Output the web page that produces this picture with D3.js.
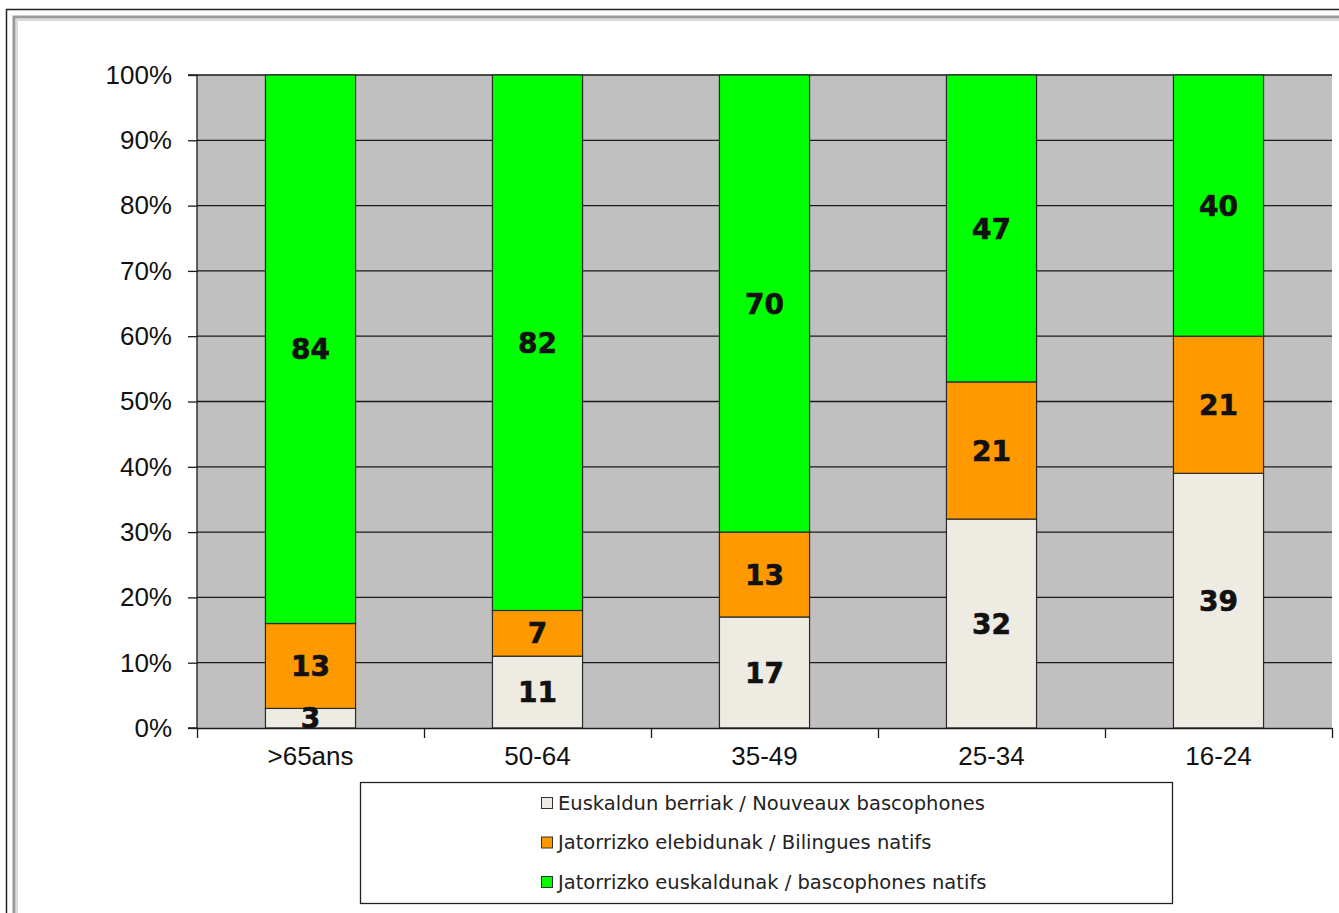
<!DOCTYPE html>
<html>
<head>
<meta charset="utf-8">
<script src="https://cdn.jsdelivr.net/npm/d3@7/dist/d3.min.js"></script>
<style>
  html, body { margin: 0; padding: 0; background: #fff; }
  svg { display: block; }
</style>
</head>
<body>
<svg id="chart" width="1339" height="913"></svg>
<script>
// Age groups and the share (in %) of each speaker profile
const categories = [">65ans", "50-64", "35-49", "25-34", "16-24"];
const nouveaux = [3, 11, 17, 32, 39];
const bilingues = [13, 7, 13, 21, 21];
const natifs = [84, 82, 70, 47, 40];

const seriesNames = [
  "Euskaldun berriak / Nouveaux bascophones",
  "Jatorrizko elebidunak / Bilingues natifs",
  "Jatorrizko euskaldunak / bascophones natifs"
];
const seriesColors = ["#eeebe2", "#ff9900", "#00ff00"];
const yTicks = [0, 10, 20, 30, 40, 50, 60, 70, 80, 90, 100];

const svg = d3.select("#chart");

// outer frame with its grey inner bevel
svg.append("rect").attr("x", 6.5).attr("y", 9.5).attr("width", 1400).attr("height", 1000)
  .attr("fill", "#fff").attr("stroke", "#222").attr("stroke-width", 1.5);
svg.append("rect").attr("x", 14).attr("y", 17).attr("width", 1400).attr("height", 1000)
  .attr("fill", "none").attr("stroke", "#9a9a9a").attr("stroke-width", 3);
svg.append("rect").attr("x", 17).attr("y", 20).attr("width", 1400).attr("height", 1000)
  .attr("fill", "none").attr("stroke", "#dcdcdc").attr("stroke-width", 2);

const plot = { left: 197, right: 1332, top: 75, bottom: 728 };

const x = d3.scaleBand().domain(categories).range([plot.left, plot.right]).padding(0);
const y = d3.scaleLinear().domain([0, 100]).range([plot.bottom, plot.top]);
const barW = x.bandwidth() * 0.397;

// plot background
svg.append("rect")
  .attr("x", plot.left).attr("y", plot.top)
  .attr("width", plot.right - plot.left).attr("height", plot.bottom - plot.top)
  .attr("fill", "#c0c0c0");

// horizontal gridlines
svg.append("g").selectAll("line").data(yTicks.filter(d => d > 0)).join("line")
  .attr("x1", plot.left).attr("x2", plot.right)
  .attr("y1", d => y(d)).attr("y2", d => y(d))
  .attr("stroke", "#1a1a1a").attr("stroke-width", 1.3);

// stacked bars
const rows = categories.map((c, i) => ({ cat: c, vals: [nouveaux[i], bilingues[i], natifs[i]] }));
const segs = [];
rows.forEach(r => {
  let acc = 0;
  r.vals.forEach((v, k) => {
    segs.push({ cat: r.cat, k, v, y0: acc, y1: acc + v });
    acc += v;
  });
});

const barsG = svg.append("g");
barsG.selectAll("rect").data(segs).join("rect")
  .attr("x", d => x(d.cat) + (x.bandwidth() - barW) / 2)
  .attr("width", barW)
  .attr("y", d => y(d.y1))
  .attr("height", d => y(d.y0) - y(d.y1))
  .attr("fill", d => seriesColors[d.k])
  .attr("stroke", "#2a2a2a").attr("stroke-width", 1.2);

// value labels centred in each segment
barsG.selectAll("text").data(segs).join("text")
  .attr("x", d => x(d.cat) + x.bandwidth() / 2)
  .attr("y", d => y((d.y0 + d.y1) / 2))
  .attr("dy", "0.36em")
  .attr("text-anchor", "middle")
  .attr("font-family", "'DejaVu Sans', Verdana, sans-serif")
  .attr("font-weight", "bold")
  .attr("font-size", 28)
  .attr("fill", "#111")
  .attr("stroke", "#111").attr("stroke-width", 0.6)
  .text(d => d.v);

// y axis
const yAxis = d3.axisLeft(y).tickValues(yTicks).tickFormat(d => d + "%").tickSize(9).tickPadding(16);
const yG = svg.append("g").attr("transform", `translate(${plot.left},0)`).call(yAxis);
yG.select(".domain").attr("stroke", "#1a1a1a").attr("stroke-width", 1.3).attr("d", `M-9,${plot.top}H0V${plot.bottom}H-9`);
yG.selectAll(".tick line").attr("stroke", "#1a1a1a").attr("stroke-width", 1.3);
yG.selectAll(".tick text")
  .attr("font-family", "'Liberation Sans', Arial, sans-serif")
  .attr("font-size", 26).attr("fill", "#111");

// x axis: baseline with ticks at category boundaries
const xb = d3.scaleLinear().domain([0, categories.length]).range([plot.left, plot.right]);
const xBoundG = svg.append("g").attr("transform", `translate(0,${plot.bottom})`)
  .call(d3.axisBottom(xb).ticks(categories.length).tickFormat("").tickSize(10).tickSizeOuter(0));
xBoundG.select(".domain").attr("stroke", "#1a1a1a").attr("stroke-width", 1.3);
xBoundG.selectAll(".tick line").attr("stroke", "#1a1a1a").attr("stroke-width", 1.3);

const xG = svg.append("g").attr("transform", `translate(0,${plot.bottom})`)
  .call(d3.axisBottom(x).tickSize(0).tickPadding(19));
xG.select(".domain").remove();
xG.selectAll(".tick text")
  .attr("font-family", "'Liberation Sans', Arial, sans-serif")
  .attr("font-size", 26).attr("fill", "#111");

// legend
const lg = svg.append("g");
lg.append("rect").attr("x", 360.5).attr("y", 782.5).attr("width", 812).attr("height", 121)
  .attr("fill", "#fff").attr("stroke", "#222").attr("stroke-width", 1.3);
const items = lg.selectAll("g.item").data(seriesNames).join("g").attr("class", "item")
  .attr("transform", (d, i) => `translate(541,${803 + i * 39.5})`);
items.append("rect").attr("x", 0.5).attr("y", -5.5).attr("width", 11).attr("height", 11)
  .attr("fill", (d, i) => seriesColors[i]).attr("stroke", "#333").attr("stroke-width", 1);
items.append("text").attr("x", 17).attr("y", 0).attr("dy", "0.35em")
  .attr("font-family", "Tahoma, 'DejaVu Sans', sans-serif")
  .attr("font-size", 19.5).attr("fill", "#222")
  .text(d => d);
</script>
</body>
</html>
